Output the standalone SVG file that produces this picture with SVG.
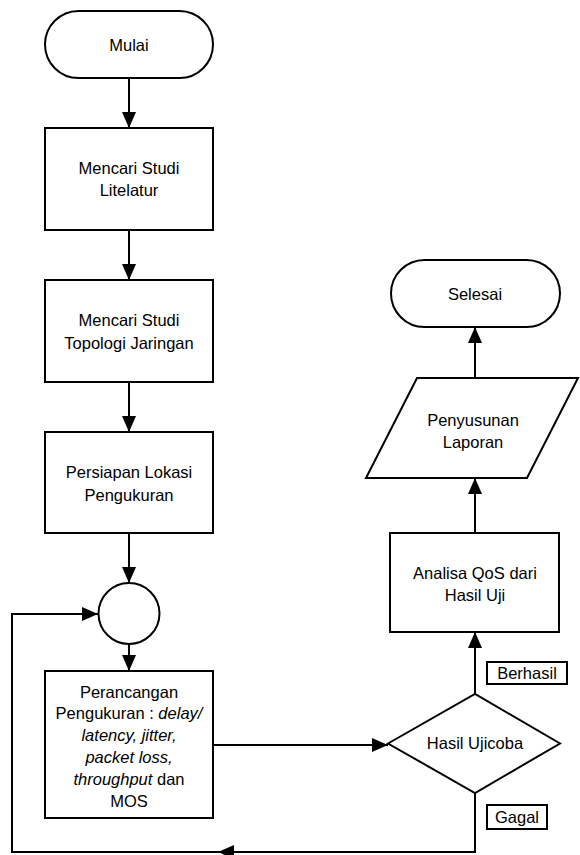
<svg xmlns="http://www.w3.org/2000/svg" width="580" height="855" viewBox="0 0 580 855">
<style>
.s{fill:#fff;stroke:#000;stroke-width:2}
.t{font-family:"Liberation Sans",Arial,sans-serif;font-size:16.5px;fill:#000;text-anchor:middle;dominant-baseline:central}
.c{fill:none;stroke:#000;stroke-width:2}
.i{font-style:italic}
</style>
<defs>
<marker id="a" markerUnits="userSpaceOnUse" markerWidth="16" markerHeight="14" refX="16" refY="7" orient="auto"><path d="M0,0 L16,7 L0,14 z" fill="#000"/></marker>
</defs>
<g id="connectors">
<path class="c" d="M129,78 V128" marker-end="url(#a)"/>
<path class="c" d="M129,230 V280" marker-end="url(#a)"/>
<path class="c" d="M129,382 V432" marker-end="url(#a)"/>
<path class="c" d="M129,533 V583" marker-end="url(#a)"/>
<path class="c" d="M129,644 V671" marker-end="url(#a)"/>
<path class="c" d="M213,745 H388" marker-end="url(#a)"/>
<path class="c" d="M475,694 V632" marker-end="url(#a)"/>
<path class="c" d="M475,533 V478" marker-end="url(#a)"/>
<path class="c" d="M475,378 V327" marker-end="url(#a)"/>
<path class="c" d="M475,793 V852 H218" marker-end="url(#a)"/>
<path class="c" d="M219,852 H12 V614 H98" marker-end="url(#a)"/>
</g>
<g id="mulai"><rect class="s" x="45" y="11" width="168" height="67" rx="33.5"/><text class="t" x="129" y="44.5">Mulai</text></g>
<g id="studi-literatur"><rect class="s" x="45" y="128" width="168" height="102"/><text class="t" x="129" y="168">Mencari Studi</text><text class="t" x="129" y="190">Litelatur</text></g>
<g id="studi-topologi"><rect class="s" x="45" y="280" width="168" height="102"/><text class="t" x="129" y="320">Mencari Studi</text><text class="t" x="129" y="343">Topologi Jaringan</text></g>
<g id="persiapan"><rect class="s" x="45" y="432" width="168" height="101"/><text class="t" x="129" y="472">Persiapan Lokasi</text><text class="t" x="129" y="495">Pengukuran</text></g>
<g id="konektor"><circle class="s" cx="129" cy="613.5" r="30.5"/></g>
<g id="perancangan"><rect class="s" x="45" y="671" width="168" height="147"/>
<text class="t" x="129" y="692">Perancangan</text>
<text class="t" x="129" y="713">Pengukuran : <tspan class="i">delay/</tspan></text>
<text class="t i" x="129" y="735">latency, jitter,</text>
<text class="t i" x="129" y="757">packet loss,</text>
<text class="t" x="129" y="779"><tspan class="i">throughput</tspan> dan</text>
<text class="t" x="129" y="801">MOS</text>
</g>
<g id="hasil-ujicoba"><path class="s" d="M388,743.5 L475,694 L560,743.5 L475,793 Z"/><text class="t" x="475" y="743">Hasil Ujicoba</text></g>
<g id="analisa"><rect class="s" x="390" y="533" width="169" height="99"/><text class="t" x="475" y="573">Analisa QoS dari</text><text class="t" x="475" y="595">Hasil Uji</text></g>
<g id="penyusunan"><path class="s" d="M417,378 L578,378 L527,478 L366,478 Z"/><text class="t" x="473" y="420">Penyusunan</text><text class="t" x="473" y="442">Laporan</text></g>
<g id="selesai"><rect class="s" x="391" y="260" width="169" height="67" rx="33.5"/><text class="t" x="475" y="294">Selesai</text></g>
<g id="label-berhasil"><rect class="s" x="487" y="662" width="80" height="22" stroke-width="1.5"/><text class="t" x="527" y="673">Berhasil</text></g>
<g id="label-gagal"><rect class="s" x="487" y="805" width="60" height="24" stroke-width="1.5"/><text class="t" x="517" y="817">Gagal</text></g>
</svg>
